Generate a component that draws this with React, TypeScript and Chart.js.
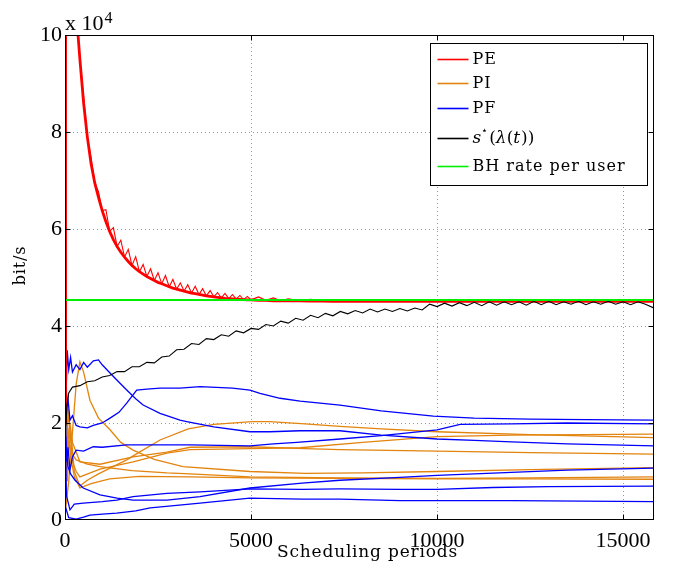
import React, { useEffect, useRef } from "react";
import { Chart, registerables } from "chart.js";
Chart.register(...registerables);

// ---------- axes ----------
const X_TICKS = [0, 5000, 10000, 15000];
const Y_TICKS = [0, 2, 4, 6, 8, 10];
const X_MAX = 15830;
const Y_MAX = 10; // in units of 10^4 bit/s

const LEGEND_LABELS = ["PE", "PI", "PF", "s*(λ(t))", "BH rate per user"];
const X_TITLE = "Scheduling periods";
const Y_TITLE = "bit/s";

const RED = "#ff0000";
const ORANGE = "#e3840e";
const BLUE = "#0000ff";
const BLACK = "#000000";
const GREEN = "#00ee00";

// ---------- PE (red): lower edge and spiky upper edge of the band ----------
const peT = [0, 15, 300, 350, 400, 500, 600, 700, 800, 900, 1000, 1100, 1200, 1300, 1400, 1500, 1600, 1700, 1800, 1900,
  2000, 2100, 2200, 2300, 2400, 2500, 2600, 2700, 2800, 2900, 3000, 3100, 3200, 3300, 3400, 3500, 3600, 3700, 3800, 3900,
  4000, 4100, 4200, 4300, 4400, 4500, 4600, 4700, 4800, 4900, 5000, 5200, 5400, 5600, 5800, 6000, 6300, 6600, 6900, 7200,
  7500, 7800, 8100, 8400, 8700, 9000, 9400, 9800, 10200, 10600, 11000, 11400, 11800, 12200, 12600, 13000, 13400, 13800, 14200, 14600,
  15000, 15400, 15830];
const peLowY = [2.0, 12.0, 11.0, 10.0, 9.5, 8.6, 7.9, 7.35, 6.95, 6.65, 6.38, 6.15, 5.95, 5.78, 5.64, 5.52, 5.42, 5.33, 5.25, 5.18,
  5.12, 5.07, 5.02, 4.98, 4.94, 4.9, 4.87, 4.84, 4.81, 4.78, 4.76, 4.74, 4.72, 4.7, 4.68, 4.665, 4.65, 4.635, 4.62, 4.61,
  4.6, 4.59, 4.58, 4.57, 4.565, 4.56, 4.555, 4.55, 4.545, 4.54, 4.54, 4.53, 4.53, 4.52, 4.52, 4.52, 4.52, 4.515, 4.515, 4.51,
  4.51, 4.51, 4.51, 4.51, 4.51, 4.51, 4.51, 4.51, 4.51, 4.51, 4.51, 4.51, 4.51, 4.51, 4.51, 4.51, 4.51, 4.51, 4.51, 4.51,
  4.51, 4.51, 4.51];
const peSpikeY = [2.0, 12.0, 11.0, 10.0, 9.5, 8.72, 7.9, 7.47, 6.95, 6.77, 6.38, 6.4, 5.95, 6.03, 5.64, 5.77, 5.42, 5.58, 5.25, 5.43,
  5.12, 5.27, 5.02, 5.18, 4.94, 5.1, 4.87, 5.04, 4.81, 4.96, 4.76, 4.89, 4.72, 4.85, 4.68, 4.82, 4.65, 4.77, 4.62, 4.73,
  4.6, 4.69, 4.58, 4.67, 4.565, 4.65, 4.555, 4.63, 4.545, 4.61, 4.54, 4.6, 4.53, 4.58, 4.52, 4.56, 4.52, 4.55, 4.515, 4.545,
  4.51, 4.54, 4.51, 4.535, 4.51, 4.53, 4.51, 4.53, 4.51, 4.53, 4.51, 4.53, 4.51, 4.53, 4.51, 4.53, 4.51, 4.53, 4.51, 4.53,
  4.51, 4.53, 4.51];

// ---------- s*(lambda(t)) (black) ----------
const sT = [0, 50, 100, 200, 400, 600, 800, 1000, 1200, 1400, 1600, 1800, 2000, 2200, 2400, 2600, 2800, 3000, 3200, 3400,
  3600, 3800, 4000, 4200, 4400, 4600, 4800, 5000, 5200, 5400, 5600, 5800, 6000, 6200, 6400, 6600, 6800, 7000, 7200, 7400,
  7600, 7800, 8000, 8200, 8400, 8600, 8800, 9000, 9200, 9400, 9600, 9800, 10000, 10200, 10400, 10600, 10800, 11000, 11200, 11400,
  11600, 11800, 12000, 12200, 12400, 12600, 12800, 13000, 13200, 13400, 13600, 13800, 14000, 14200, 14400, 14600, 14800, 15000, 15200, 15400,
  15600, 15800, 15830];
const sY = [1.5, 2.35, 2.62, 2.74, 2.77, 2.85, 2.87, 2.95, 2.98, 3.06, 3.06, 3.16, 3.16, 3.25, 3.24, 3.36, 3.38, 3.51, 3.52, 3.64,
  3.62, 3.74, 3.72, 3.82, 3.79, 3.9, 3.86, 3.95, 3.93, 4.03, 4.0, 4.1, 4.06, 4.16, 4.12, 4.22, 4.17, 4.26, 4.21, 4.3,
  4.25, 4.32, 4.27, 4.35, 4.29, 4.35, 4.3, 4.36, 4.31, 4.37, 4.33, 4.45, 4.4, 4.47, 4.41, 4.48, 4.42, 4.49, 4.42, 4.5,
  4.43, 4.5, 4.44, 4.5, 4.43, 4.51, 4.44, 4.51, 4.44, 4.5, 4.45, 4.51, 4.44, 4.5, 4.45, 4.51, 4.45, 4.5, 4.44, 4.5,
  4.45, 4.38, 4.4];

// ---------- BH rate per user (green) ----------
const bhT = [0, 15830];
const bhY = [4.536, 4.536];

// ---------- PF users (blue) ----------
const pfAT = [0, 30, 60, 100, 150, 200, 300, 400, 500, 600, 762, 900, 1000, 1210, 1400, 1658, 1900, 2100, 2554, 3090, 3270, 4000, 4970, 5500, 6320, 7390, 8500, 10000, 11000, 12000, 13500, 15830];
const pfAY = [4.1, 2.6, 3.5, 3.1, 3.35, 3.05, 3.2, 3.1, 3.25, 3.15, 3.28, 3.3, 3.2, 3.03, 2.88, 2.68, 2.5, 2.37, 2.2, 2.06, 2.03, 1.92, 1.82, 1.82, 1.84, 1.84, 1.75, 1.67, 1.64, 1.61, 1.57, 1.53];
const pfBT = [0, 20, 45, 80, 134, 200, 300, 400, 600, 760, 1000, 1210, 1450, 1658, 1927, 2200, 2554, 3090, 3630, 4500, 4970, 5240, 5780, 6320, 7390, 8500, 9900, 11000, 12500, 14000, 15830];
const pfBY = [5.5, 2.0, 2.27, 2.5, 2.06, 2.15, 1.95, 1.92, 1.9, 1.95, 2.0, 2.1, 2.22, 2.41, 2.68, 2.7, 2.72, 2.72, 2.75, 2.72, 2.68, 2.61, 2.51, 2.45, 2.37, 2.25, 2.14, 2.1, 2.08, 2.07, 2.06];
const pfCT = [0, 20, 45, 80, 134, 200, 300, 500, 760, 1000, 1658, 2500, 3360, 4970, 5600, 6230, 7390, 8500, 10000, 10620, 12000, 13500, 15830];
const pfCY = [0.6, 1.72, 1.2, 1.5, 1.03, 1.3, 1.44, 1.42, 1.51, 1.5, 1.55, 1.55, 1.55, 1.53, 1.57, 1.6, 1.67, 1.74, 1.86, 1.97, 1.98, 2.0, 1.98];
const pfDT = [0, 30, 80, 150, 270, 490, 940, 1400, 1830, 2740, 3630, 4970, 6370, 7390, 9000, 10000, 12000, 13500, 15830];
const pfDY = [2.4, 1.5, 1.1, 0.95, 0.82, 0.66, 0.52, 0.45, 0.41, 0.41, 0.48, 0.66, 0.76, 0.82, 0.88, 0.92, 0.98, 1.03, 1.07];
const pfET = [0, 40, 134, 250, 490, 1000, 1390, 1830, 2740, 3630, 4970, 6370, 7390, 9000, 10000, 11500, 13000, 15830];
const pfEY = [1.6, 0.5, 0.21, 0.33, 0.35, 0.38, 0.41, 0.48, 0.55, 0.58, 0.64, 0.63, 0.64, 0.63, 0.63, 0.67, 0.69, 0.7];
const pfFT = [0, 100, 300, 500, 670, 1000, 1390, 1900, 2290, 3000, 3630, 4970, 6370, 7390, 9000, 10000, 12000, 15830];
const pfFY = [0.3, 0.05, 0.02, 0.06, 0.1, 0.12, 0.14, 0.19, 0.25, 0.3, 0.35, 0.45, 0.43, 0.43, 0.4, 0.4, 0.4, 0.38];

// ---------- PI users (orange) ----------
const piAT = [0, 30, 60, 100, 150, 250, 400, 600, 900, 1658, 2000, 2554, 3310, 4000, 5030, 5500, 6450, 7390, 8500, 10000, 12500, 15830];
const piAY = [2.2, 1.5, 0.8, 1.6, 1.9, 1.0, 0.7, 0.82, 0.95, 1.24, 1.4, 1.65, 1.88, 1.97, 2.03, 2.03, 1.98, 1.93, 1.88, 1.82, 1.76, 1.7];
const piBT = [0, 40, 80, 200, 300, 400, 940, 1830, 2740, 3360, 4970, 6320, 8000, 10000, 12000, 15830];
const piBY = [1.5, 1.0, 2.3, 1.2, 1.0, 0.89, 1.05, 1.2, 1.38, 1.45, 1.47, 1.49, 1.6, 1.72, 1.75, 1.77];
const piCT = [0, 50, 100, 200, 300, 400, 940, 1830, 2740, 3360, 4970, 6450, 7390, 10000, 12500, 15830];
const piCY = [5.1, 2.0, 2.1, 1.6, 1.4, 1.2, 1.15, 1.3, 1.4, 1.5, 1.51, 1.47, 1.45, 1.42, 1.39, 1.36];
const piDT = [0, 100, 200, 300, 400, 500, 670, 900, 1210, 1500, 1830, 2400, 3170, 4970, 6450, 8000, 10000, 12500, 15830];
const piDY = [0.1, 0.8, 1.8, 2.8, 3.26, 3.05, 2.47, 2.1, 1.86, 1.6, 1.44, 1.25, 1.1, 1.0, 0.96, 0.97, 1.0, 1.04, 1.08];
const piET = [0, 50, 100, 200, 300, 600, 940, 1800, 2740, 3360, 4970, 7390, 10000, 12500, 15830];
const piEY = [2.0, 1.4, 1.6, 1.35, 1.24, 1.15, 1.1, 1.02, 0.97, 0.95, 0.89, 0.87, 0.86, 0.87, 0.89];
const piFT = [0, 40, 80, 150, 250, 400, 700, 1200, 2000, 3360, 4970, 7390, 10000, 12500, 15830];
const piFY = [0.5, 1.2, 1.9, 1.3, 0.9, 0.66, 0.75, 0.85, 0.9, 0.89, 0.87, 0.86, 0.85, 0.85, 0.84];

const pts = (t: number[], y: number[]) => t.map((x, i) => ({ x, y: y[i] }));

function line(ctx: CanvasRenderingContext2D, x1: number, y1: number, x2: number, y2: number) {
  ctx.beginPath();
  ctx.moveTo(x1, y1);
  ctx.lineTo(x2, y2);
  ctx.stroke();
}

const decor = {
  id: "decor",
  beforeDatasetsDraw(chart: any) {
    const { ctx, chartArea: a, scales } = chart;
    const xs = scales.x, ys = scales.y;
    ctx.save();
    ctx.strokeStyle = "#9a9a9a";
    ctx.lineWidth = 1;
    ctx.setLineDash([1, 3]);
    X_TICKS.forEach((v) => {
      if (v <= 0) return;
      const px = Math.round(xs.getPixelForValue(v)) + 0.5;
      line(ctx, px, a.top, px, a.bottom);
    });
    Y_TICKS.forEach((v) => {
      if (v <= 0 || v >= Y_MAX) return;
      const py = Math.round(ys.getPixelForValue(v)) + 0.5;
      line(ctx, a.left, py, a.right, py);
    });
    ctx.restore();
  },
  afterDatasetsDraw(chart: any) {
    const { ctx, chartArea: a, scales } = chart;
    const xs = scales.x, ys = scales.y;
    ctx.save();
    ctx.strokeStyle = "#000";
    ctx.lineWidth = 1;
    const L = Math.round(a.left) + 0.5, R = Math.round(a.right) - 0.5;
    const T = Math.round(a.top) + 0.5, B = Math.round(a.bottom) - 0.5;
    ctx.strokeRect(L, T, R - L, B - T);
    const tl = 5;
    X_TICKS.forEach((v) => {
      if (v <= 0) return;
      const px = Math.round(xs.getPixelForValue(v)) + 0.5;
      line(ctx, px, B, px, B - tl);
      line(ctx, px, T, px, T + tl);
    });
    Y_TICKS.forEach((v) => {
      if (v <= 0 || v >= Y_MAX) return;
      const py = Math.round(ys.getPixelForValue(v)) + 0.5;
      line(ctx, L, py, L + tl, py);
      line(ctx, R, py, R - tl, py);
    });
    ctx.restore();
  },
  afterDraw(chart: any) {
    const { ctx, chartArea: a } = chart;
    ctx.save();
    // multiplier
    ctx.fillStyle = "#000";
    ctx.textBaseline = "alphabetic";
    ctx.textAlign = "left";
    ctx.font = "22px 'Liberation Serif'";
    ctx.fillText("x 10", a.left, a.top - 5);
    const w = ctx.measureText("x 10").width;
    ctx.font = "16px 'Liberation Serif'";
    ctx.fillText("4", a.left + w + 1, a.top - 12);

    // axis titles
    (ctx as any).letterSpacing = "0.8px";
    ctx.font = "17px 'DejaVu Serif'";
    ctx.textAlign = "center";
    ctx.textBaseline = "middle";
    ctx.fillText(X_TITLE, (a.left + a.right) / 2 + 8, 553);
    ctx.save();
    ctx.translate(21, (a.top + a.bottom) / 2 - 12);
    ctx.rotate(-Math.PI / 2);
    ctx.font = "16px 'DejaVu Serif'";
    ctx.fillText(Y_TITLE, 0, 0);
    ctx.restore();

    // legend
    const bx = Math.round(a.right) - 224 + 0.5, by = Math.round(a.top) + 8 + 0.5;
    const bw = 217, bh = 142;
    ctx.fillStyle = "#fff";
    ctx.fillRect(bx, by, bw, bh);
    ctx.strokeStyle = "#000";
    ctx.lineWidth = 1;
    ctx.strokeRect(bx, by, bw, bh);
    const rows = [16, 40, 65, 95, 123];
    const colors = [RED, ORANGE, BLUE, BLACK, GREEN];
    ctx.textAlign = "left";
    ctx.textBaseline = "middle";
    rows.forEach((dy, i) => {
      const yy = by + dy;
      ctx.strokeStyle = colors[i];
      ctx.lineWidth = 1.6;
      line(ctx, bx + 7, yy, bx + 38, yy);
      ctx.fillStyle = "#000";
      const tx = bx + 42;
      if (i === 3) {
        let x = tx;
        (ctx as any).letterSpacing = "0px";
        ctx.font = "italic 17px 'DejaVu Serif'";
        ctx.fillText("s", x, yy);
        x += ctx.measureText("s").width;
        ctx.font = "11px 'DejaVu Serif'";
        ctx.fillText("⋆", x, yy - 7);
        x += ctx.measureText("⋆").width + 1;
        ctx.font = "17px 'DejaVu Serif'";
        ctx.fillText("(", x, yy);
        x += ctx.measureText("(").width;
        ctx.font = "italic 17px 'DejaVu Serif'";
        ctx.fillText("λ", x, yy);
        x += ctx.measureText("λ").width;
        ctx.font = "17px 'DejaVu Serif'";
        ctx.fillText("(", x, yy);
        x += ctx.measureText("(").width;
        ctx.font = "italic 17px 'DejaVu Serif'";
        ctx.fillText("t", x, yy);
        x += ctx.measureText("t").width + 1;
        ctx.font = "17px 'DejaVu Serif'";
        ctx.fillText("))", x, yy);
      } else {
        (ctx as any).letterSpacing = "1px";
        ctx.font = "16px 'DejaVu Serif'";
        ctx.fillText(LEGEND_LABELS[i], tx, yy);
      }
    });
    (ctx as any).letterSpacing = "0px";
    ctx.restore();
  },
};

export default function App() {
  const ref = useRef<HTMLCanvasElement | null>(null);
  useEffect(() => {
    if (!ref.current) return;
    const mk = (label: string, t: number[], y: number[], color: string, width: number) => ({
      label,
      data: pts(t, y),
      borderColor: color,
      backgroundColor: color,
      borderWidth: width,
      pointRadius: 0,
      tension: 0,
      fill: false,
      clip: 0,
    });
    const datasets = [
      mk("BH rate per user", bhT, bhY, GREEN, 2),
      mk("s*", sT, sY, BLACK, 1.1),
      mk("PE", peT, peLowY, RED, 2.8),
      mk("PE", peT, peSpikeY, RED, 1.1),
      mk("PF", pfAT, pfAY, BLUE, 1.3),
      mk("PF", pfBT, pfBY, BLUE, 1.3),
      mk("PF", pfCT, pfCY, BLUE, 1.3),
      mk("PF", pfDT, pfDY, BLUE, 1.3),
      mk("PF", pfET, pfEY, BLUE, 1.3),
      mk("PF", pfFT, pfFY, BLUE, 1.3),
      mk("PI", piAT, piAY, ORANGE, 1.3),
      mk("PI", piBT, piBY, ORANGE, 1.3),
      mk("PI", piCT, piCY, ORANGE, 1.3),
      mk("PI", piDT, piDY, ORANGE, 1.3),
      mk("PI", piET, piEY, ORANGE, 1.3),
      mk("PI", piFT, piFY, ORANGE, 1.3),
    ];
    const tickFont = { family: "'Liberation Serif'", size: 22 };
    const chart = new Chart(ref.current, {
      type: "line",
      data: { datasets } as any,
      plugins: [decor],
      options: {
        animation: false,
        responsive: false,
        devicePixelRatio: 1,
        layout: { padding: { left: 0, right: 19, top: 35, bottom: 0 } },
        plugins: { legend: { display: false }, tooltip: { enabled: false } },
        scales: {
          x: {
            type: "linear",
            min: 0,
            max: X_MAX,
            grid: { display: false, drawTicks: false },
            border: { display: false },
            ticks: {
              font: tickFont,
              color: "#000",
              padding: 8,
              maxRotation: 0,
              autoSkip: false,
              callback: (v: any) => String(v),
            },
            afterBuildTicks: (s: any) => {
              s.ticks = X_TICKS.map((v) => ({ value: v }));
            },
            afterFit: (s: any) => {
              s.height = 49;
            },
          },
          y: {
            type: "linear",
            min: 0,
            max: Y_MAX,
            grid: { display: false, drawTicks: false },
            border: { display: false },
            ticks: {
              font: tickFont,
              color: "#000",
              padding: 3,
              autoSkip: false,
              callback: (v: any) => String(v),
            },
            afterBuildTicks: (s: any) => {
              s.ticks = Y_TICKS.map((v) => ({ value: v }));
            },
            afterFit: (s: any) => {
              s.width = 65;
            },
          },
        },
      } as any,
    });
    return () => chart.destroy();
  }, []);
  return (
    <div style={{ position: "fixed", left: 0, top: 0, width: 673, height: 569, background: "#fff" }}>
      <canvas ref={ref} width={673} height={569} style={{ display: "block" }} />
    </div>
  );
}
